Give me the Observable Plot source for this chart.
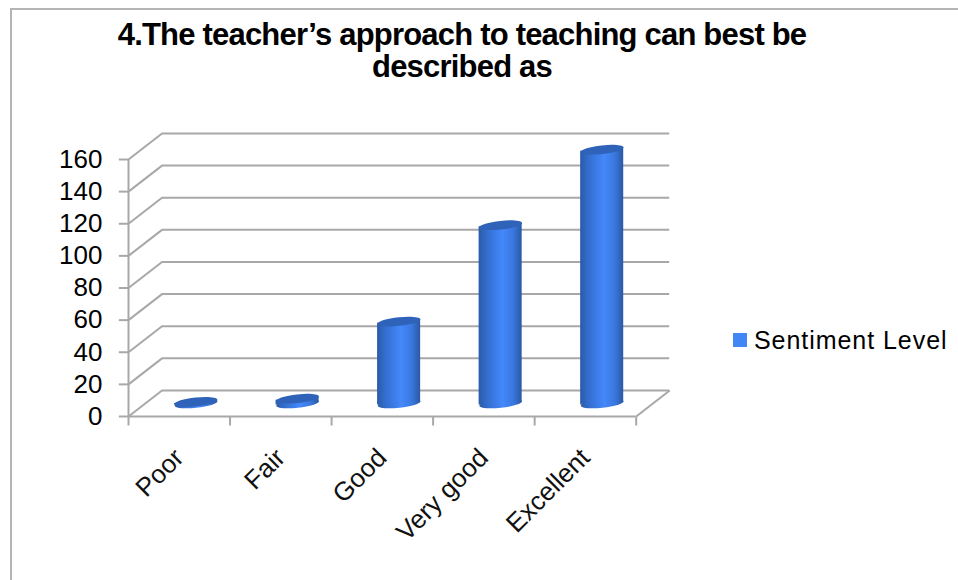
<!DOCTYPE html>
<html>
<head>
<meta charset="utf-8">
<script src="https://cdn.jsdelivr.net/npm/d3@7"></script>
<script src="https://cdn.jsdelivr.net/npm/@observablehq/plot@0.6"></script>
<style>
html,body{margin:0;padding:0;background:#fff;width:958px;height:580px;overflow:hidden}
#chart{position:absolute;left:0;top:0}
#frame{position:absolute;left:10px;top:8px;width:960px;height:600px;border:2px solid #b4b4b4;box-sizing:border-box}
#title{position:absolute;left:62px;top:19px;width:800px;text-align:center;font:bold 31px/32px "Liberation Sans",Arial,sans-serif;letter-spacing:-0.8px;color:#000}
#legend{position:absolute;left:733px;top:325px;white-space:nowrap;font:25px/30px "Liberation Sans",Arial,sans-serif;color:#000;letter-spacing:.95px}
#legend i{position:absolute;left:0;top:8px;width:14px;height:14px;background:#4285f4}
#legend span{position:absolute;left:21px;top:0}
svg text{font-family:"Liberation Sans",Arial,sans-serif}
</style>
</head>
<body>
<div id="frame"></div>
<div id="chart"></div>
<div id="title">4.The teacher’s approach to teaching can best be<br>described as</div>
<div id="legend"><i></i><span>Sentiment Level</span></div>
<script>
const categories = ["Poor", "Fair", "Good", "Very good", "Excellent"];
const sentimentLevel = [1, 3, 51, 111, 158];
const yTicks = [0, 20, 40, 60, 80, 100, 120, 140, 160];
const xEdges = [0, 1, 2, 3, 4, 5];

// Depth of the pseudo-3D box, in data units of the two scales
const depthX = 0.33, depthY = 16.2;
const halfBar = 0.212, tilt = 1;
const tickX = 0.095, tickY = 5.6;
const lineColor = "#a8a8a8";

const ellipse = {
  draw(ctx, size) {
    const a = Math.sqrt(size / Math.PI), b = a * 0.2, k = 0.5523;
    ctx.moveTo(-a, 0);
    ctx.bezierCurveTo(-a, -k * b, -k * a, -b, 0, -b);
    ctx.bezierCurveTo(k * a, -b, a, -k * b, a, 0);
    ctx.bezierCurveTo(a, k * b, k * a, b, 0, b);
    ctx.bezierCurveTo(-k * a, b, -a, k * b, -a, 0);
    ctx.closePath();
  }
};

const rows = categories.map((c, i) => ({c, v: sentimentLevel[i], x: i + 0.5 + depthX / 2, base: depthY / 2}));
const edges = rows.flatMap(d => [
  {c: d.c, x: d.x - halfBar, y1: d.base - tilt, y2: d.base + d.v - tilt},
  {c: d.c, x: d.x + halfBar, y1: d.base + tilt, y2: d.base + d.v + tilt}
]);

function gradient() {
  const defs = d3.create("svg:defs");
  const g = defs.append("linearGradient").attr("id", "cyl").attr("x1", 0).attr("x2", 1).attr("y1", 0).attr("y2", 0);
  [[0, "#2b5ba8"], [0.22, "#3570d2"], [0.55, "#4488fb"], [0.8, "#3a78de"], [1, "#2a58a4"]]
    .forEach(([o, c]) => g.append("stop").attr("offset", o).attr("stop-color", c));
  return defs.node();
}

const plot = Plot.plot({
  width: 958,
  height: 580,
  marginLeft: 128,
  marginRight: 322.3,
  marginTop: 159,
  marginBottom: 164,
  style: {background: "transparent", overflow: "visible"},
  x: {domain: [0, 5], axis: null},
  y: {domain: [0, 160], axis: null},
  marks: [
    gradient,
    // back wall lines
    Plot.ruleY(yTicks, {x1: depthX, x2: 5 + depthX, y: d => d + depthY, stroke: lineColor, strokeWidth: 2}),
    // side wall diagonals
    Plot.link(yTicks, {x1: 0, y1: d => d, x2: depthX, y2: d => d + depthY, stroke: lineColor, strokeWidth: 2}),
    // floor
    Plot.link([5], {x1: d => d, y1: 0, x2: d => d + depthX, y2: depthY, stroke: lineColor, strokeWidth: 2}),
    Plot.ruleX([0], {y1: 0, y2: 160, stroke: lineColor, strokeWidth: 2}),
    Plot.ruleY([0], {x1: 0, x2: 5, stroke: lineColor, strokeWidth: 2}),
    // ticks
    Plot.link(yTicks, {x1: -tickX, x2: 0, y1: d => d, y2: d => d, stroke: lineColor, strokeWidth: 2}),
    Plot.link(xEdges, {x1: d => d, x2: d => d, y1: 0, y2: -tickY, stroke: lineColor, strokeWidth: 2}),
    Plot.text(yTicks, {x: 0, y: d => d, text: d => String(d), textAnchor: "end", dx: -26, dy: 0, fontSize: 26, fill: "#000"}),
    Plot.text(categories, {x: (d, i) => i + 0.5, y: 0, text: d => d, rotate: -45, textAnchor: "end", dx: 0, dy: 37, fontSize: 26, fill: "#111"}),
    // cylinders
    Plot.dot(rows, {x: "x", y: "base", r: 21.5, symbol: ellipse, rotate: -6, fill: "url(#cyl)", stroke: "none"}),
    Plot.area(edges, {x1: "x", y1: "y1", y2: "y2", z: "c", fill: "url(#cyl)", stroke: "none"}),
    Plot.dot(rows, {x: "x", y: d => d.base + d.v, r: 21.5, symbol: ellipse, rotate: -6, fill: "#2f63b9", stroke: "none"})
  ]
});
document.getElementById("chart").appendChild(plot);
</script>
</body>
</html>
